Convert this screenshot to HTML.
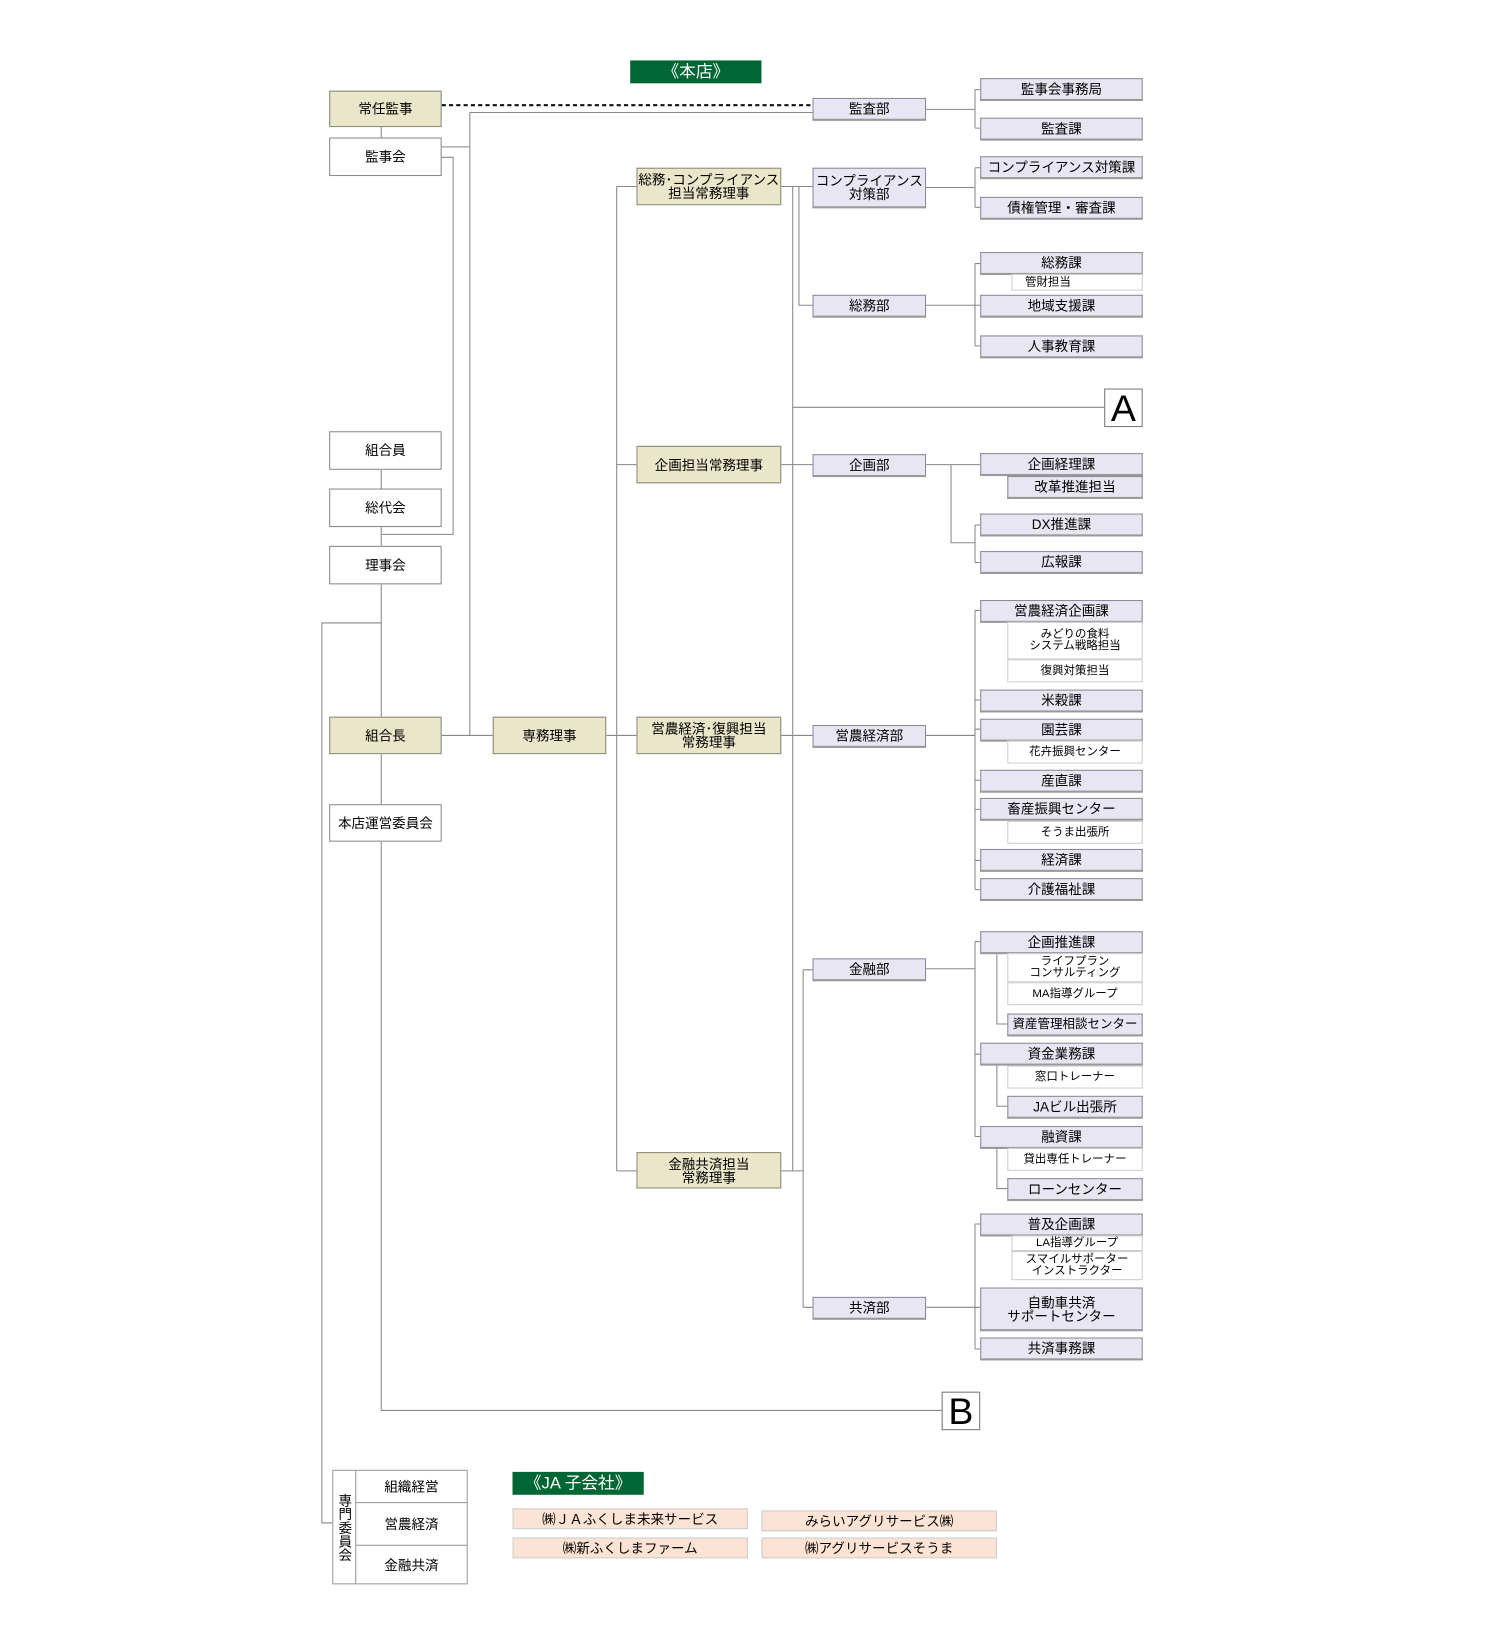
<!DOCTYPE html>
<html><head><meta charset="utf-8"><style>
html,body{margin:0;padding:0;background:#fff;width:1500px;height:1628px;overflow:hidden}
#w{position:absolute;left:0;top:0;width:1440px;height:1563px;transform:scale(1.041667);transform-origin:0 0;font-family:"Liberation Sans","Noto Sans CJK JP",sans-serif;color:#000}
.b{position:absolute;box-sizing:border-box;border:1px solid #888;display:flex;align-items:center;justify-content:center;text-align:center;font-size:13px;line-height:13px;background:#fff;white-space:nowrap}
.t{background:#e9e6c9;border-color:#8a8a7a}
.l{background:#e8e6f2;border-color:#8a8a99;border-bottom:2px solid #999}
.s{background:#fff;border-color:#ccc;font-size:11px;line-height:11px}
.g{background:#006633;color:#fff;font-size:16px;border:none}
.p{background:#fde3d3;border-color:#ccc;font-size:13px}
.big{font-size:36px;background:#fff;border-color:#777}
svg{position:absolute;left:0;top:0}
</style></head><body><div id="w">
<svg width="1440" height="1563" fill="none" stroke="#888" stroke-width="1">
<path d="M424 101H780" stroke="#111" stroke-width="2" stroke-dasharray="4 3"/>
<path d="M366 122V132M424 141H451M451 108V706M451 108H780M424 706H473M424 151H435V513H366M366 451V469M366 506V524M366 561V688M366 724V772M366 808V1354H904M366 598H309V1462H319"/>
<path d="M582 706H611M592 179V1124M592 179H611M592 446H611M592 706H611M592 1124H611"/>
<path d="M750 179H780M761 179V1124M750 446H780M750 706H780M750 1124H771M761 391H1060M767 179V293H780M771 931V1255M771 931H780M771 1255H780"/>
<path d="M889 105H936M936 86V123M936 86H941M936 123H941"/>
<path d="M889 180H936M936 161V199M936 161H941M936 199H941"/>
<path d="M889 293H941M936 253V332M936 253H941M936 332H941"/>
<path d="M889 446H941M913 446V521H936M936 504V540M936 504H941M936 540H941"/>
<path d="M889 706H936M936 586V854M936 586H941M936 672H941M936 700H941M936 749H941M936 777H941M936 826H941M936 854H941"/>
<path d="M889 930H936M936 904V1091M936 904H941M936 1012H941M936 1091H941M957 915V983H967M957 1023V1062H967M957 1102V1141H967"/>
<path d="M889 1255H941M936 1175V1295M936 1175H941M936 1295H941"/>
</svg>
<div class="b g" style="left:605px;top:58px;width:126px;height:22px">《本店》</div>
<div class="b t" style="left:316px;top:87px;width:108px;height:35px">常任監事</div>
<div class="b" style="left:316px;top:132px;width:108px;height:37px">監事会</div>
<div class="b" style="left:316px;top:414px;width:108px;height:37px">組合員</div>
<div class="b" style="left:316px;top:469px;width:108px;height:37px">総代会</div>
<div class="b" style="left:316px;top:524px;width:108px;height:37px">理事会</div>
<div class="b t" style="left:316px;top:688px;width:108px;height:36px">組合長</div>
<div class="b" style="left:316px;top:772px;width:108px;height:36px">本店運営委員会</div>
<div class="b t" style="left:473px;top:688px;width:109px;height:36px">専務理事</div>
<div class="b t" style="left:611px;top:161px;width:139px;height:36px">総務･コンプライアンス<br>担当常務理事</div>
<div class="b t" style="left:611px;top:428px;width:139px;height:36px">企画担当常務理事</div>
<div class="b t" style="left:611px;top:688px;width:139px;height:36px">営農経済･復興担当<br>常務理事</div>
<div class="b t" style="left:611px;top:1106px;width:139px;height:35px">金融共済担当<br>常務理事</div>
<div class="b l" style="left:780px;top:94px;width:109px;height:22px">監査部</div>
<div class="b l" style="left:780px;top:161px;width:109px;height:39px">コンプライアンス<br>対策部</div>
<div class="b l" style="left:780px;top:283px;width:109px;height:22px">総務部</div>
<div class="b l" style="left:780px;top:436px;width:109px;height:22px">企画部</div>
<div class="b l" style="left:780px;top:696px;width:109px;height:22px">営農経済部</div>
<div class="b l" style="left:780px;top:920px;width:109px;height:22px">金融部</div>
<div class="b l" style="left:780px;top:1245px;width:109px;height:22px">共済部</div>
<div class="b l" style="left:941px;top:75px;width:156px;height:22px">監事会事務局</div>
<div class="b l" style="left:941px;top:113px;width:156px;height:22px">監査課</div>
<div class="b l" style="left:941px;top:150px;width:156px;height:22px">コンプライアンス対策課</div>
<div class="b l" style="left:941px;top:189px;width:156px;height:22px">債権管理・審査課</div>
<div class="b l" style="left:941px;top:242px;width:156px;height:22px">総務課</div>
<div class="b s" style="left:971px;top:263px;width:126px;height:16px;justify-content:flex-start;padding-left:12px">管財担当</div>
<div class="b l" style="left:941px;top:283px;width:156px;height:22px">地域支援課</div>
<div class="b l" style="left:941px;top:322px;width:156px;height:22px">人事教育課</div>
<div class="b l" style="left:941px;top:435px;width:156px;height:22px">企画経理課</div>
<div class="b l" style="left:967px;top:457px;width:130px;height:22px">改革推進担当</div>
<div class="b l" style="left:941px;top:493px;width:156px;height:22px">DX推進課</div>
<div class="b l" style="left:941px;top:529px;width:156px;height:22px">広報課</div>
<div class="b l" style="left:941px;top:576px;width:156px;height:22px">営農経済企画課</div>
<div class="b s" style="left:967px;top:597px;width:130px;height:36px">みどりの食料<br>システム戦略担当</div>
<div class="b s" style="left:967px;top:633px;width:130px;height:22px">復興対策担当</div>
<div class="b l" style="left:941px;top:662px;width:156px;height:22px">米穀課</div>
<div class="b l" style="left:941px;top:690px;width:156px;height:22px">園芸課</div>
<div class="b s" style="left:967px;top:711px;width:130px;height:22px">花卉振興センター</div>
<div class="b l" style="left:941px;top:739px;width:156px;height:22px">産直課</div>
<div class="b l" style="left:941px;top:766px;width:156px;height:22px">畜産振興センター</div>
<div class="b s" style="left:967px;top:788px;width:130px;height:22px">そうま出張所</div>
<div class="b l" style="left:941px;top:815px;width:156px;height:22px">経済課</div>
<div class="b l" style="left:941px;top:843px;width:156px;height:22px">介護福祉課</div>
<div class="b l" style="left:941px;top:894px;width:156px;height:22px">企画推進課</div>
<div class="b s" style="left:967px;top:915px;width:130px;height:28px">ライフプラン<br>コンサルティング</div>
<div class="b s" style="left:967px;top:943px;width:130px;height:22px">MA指導グループ</div>
<div class="b l" style="left:967px;top:973px;width:130px;height:22px;font-size:12px">資産管理相談センター</div>
<div class="b l" style="left:941px;top:1001px;width:156px;height:22px">資金業務課</div>
<div class="b s" style="left:967px;top:1023px;width:130px;height:22px">窓口トレーナー</div>
<div class="b l" style="left:967px;top:1052px;width:130px;height:22px">JAビル出張所</div>
<div class="b l" style="left:941px;top:1081px;width:156px;height:22px">融資課</div>
<div class="b s" style="left:967px;top:1102px;width:130px;height:22px">貸出専任トレーナー</div>
<div class="b l" style="left:967px;top:1131px;width:130px;height:22px">ローンセンター</div>
<div class="b l" style="left:941px;top:1165px;width:156px;height:22px">普及企画課</div>
<div class="b s" style="left:971px;top:1186px;width:126px;height:15px">LA指導グループ</div>
<div class="b s" style="left:971px;top:1201px;width:126px;height:28px">スマイルサポーター<br>インストラクター</div>
<div class="b l" style="left:941px;top:1236px;width:156px;height:42px">自動車共済<br>サポートセンター</div>
<div class="b l" style="left:941px;top:1284px;width:156px;height:22px">共済事務課</div>
<div class="b big" style="left:1060px;top:373px;width:37px;height:37px">A</div>
<div class="b big" style="left:904px;top:1336px;width:37px;height:37px">B</div>
<div class="b" style="left:319px;top:1411px;width:23px;height:110px;line-height:15px;writing-mode:vertical-rl;border-color:#999">専門委員会</div>
<div class="b" style="left:341px;top:1411px;width:108px;height:32px;border-color:#999">組織経営</div>
<div class="b" style="left:341px;top:1442px;width:108px;height:42px;border-color:#999">営農経済</div>
<div class="b" style="left:341px;top:1483px;width:108px;height:38px;border-color:#999">金融共済</div>
<div class="b g" style="left:492px;top:1413px;width:126px;height:22px">《JA 子会社》</div>
<div class="b p" style="left:492px;top:1448px;width:226px;height:20px">㈱ＪＡふくしま未来サービス</div>
<div class="b p" style="left:731px;top:1450px;width:226px;height:20px">みらいアグリサービス㈱</div>
<div class="b p" style="left:492px;top:1476px;width:226px;height:20px">㈱新ふくしまファーム</div>
<div class="b p" style="left:731px;top:1476px;width:226px;height:20px">㈱アグリサービスそうま</div>
</div></body></html>
